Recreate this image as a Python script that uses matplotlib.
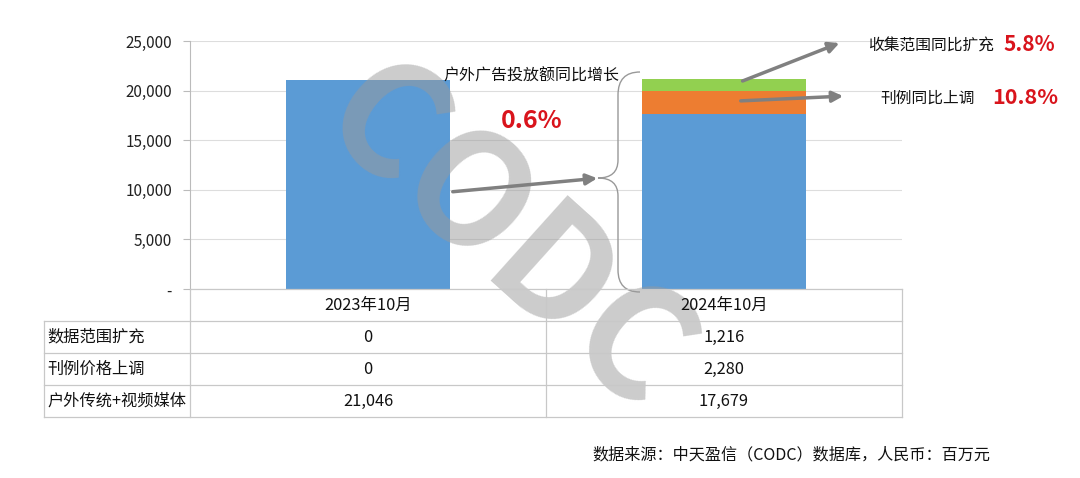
import matplotlib.pyplot as plt
from matplotlib.path import Path
from matplotlib.patches import PathPatch

plt.rcParams['font.family'] = ['Noto Sans CJK SC', 'DejaVu Sans']

# data
months = ['2023年10月', '2024年10月']
scope_expand = [0, 1216]      # 数据范围扩充
price_up = [0, 2280]          # 刊例价格上调
base_media = [21046, 17679]   # 户外传统+视频媒体
row_names = ['数据范围扩充', '刊例价格上调', '户外传统+视频媒体']
yticks = [0, 5000, 10000, 15000, 20000, 25000]
ytick_labels = ['-', '5,000', '10,000', '15,000', '20,000', '25,000']

W, H = 1080, 478
fig = plt.figure(figsize=(W / 100, H / 100), dpi=100)

# main chart axes in pixel layout
L, R, T, B = 190, 902, 41, 289
ax = fig.add_axes([L / W, 1 - B / H, (R - L) / W, (B - T) / H])

x = [0, 1]
ax.bar(x, base_media, width=0.46, color='#5B9BD5', zorder=2)
ax.bar(x, price_up, width=0.46, bottom=base_media, color='#ED7D31', zorder=2)
bot2 = [a + b for a, b in zip(base_media, price_up)]
ax.bar(x, scope_expand, width=0.46, bottom=bot2, color='#92D050', zorder=2)

ax.set_xlim(-0.5, 1.5)
ax.set_ylim(0, 25000)
ax.set_yticks(yticks)
ax.set_yticklabels(ytick_labels, fontsize=11, color='#222222')
ax.set_xticks([])
ax.grid(axis='y', color='#DDDDDD', linewidth=0.8, zorder=0)
for s in ['top', 'right', 'bottom']:
    ax.spines[s].set_visible(False)
ax.spines['left'].set_color('#BBBBBB')
ax.tick_params(axis='y', length=5, color='#BBBBBB', pad=8)

# overlay axes in pixel coordinates for table & annotations
ov = fig.add_axes([0, 0, 1, 1], zorder=5)
ov.set_xlim(0, W)
ov.set_ylim(H, 0)
ov.axis('off')
ov.patch.set_alpha(0)

lc = '#C8C8C8'
rows_y = [289, 321, 353, 385, 417]
TL = 44
col_x = [L, (L + R) / 2, R]
# header row
ov.plot([L, R], [rows_y[0], rows_y[0]], color=lc, lw=0.9)
for yy in rows_y[1:]:
    ov.plot([TL, R], [yy, yy], color=lc, lw=0.9)
for xx in col_x:
    ov.plot([xx, xx], [rows_y[0], rows_y[-1]], color=lc, lw=0.9)
ov.plot([TL, TL], [rows_y[1], rows_y[-1]], color=lc, lw=0.9)

centers = [(L + col_x[1]) / 2, (col_x[1] + R) / 2]
for c, m in zip(centers, months):
    ov.text(c, (rows_y[0] + rows_y[1]) / 2, m, ha='center', va='center', fontsize=11.8, color='#111111')
table_rows = [scope_expand, price_up, base_media]
for i, (name, vals) in enumerate(zip(row_names, table_rows)):
    yc = (rows_y[i + 1] + rows_y[i + 2]) / 2
    ov.text(TL + 3, yc, name, ha='left', va='center', fontsize=11.7, color='#111111')
    for c, v in zip(centers, vals):
        ov.text(c, yc, f'{v:,}', ha='center', va='center', fontsize=11.8, color='#111111')

# watermark
ov.text(505, 240, 'CODC', fontsize=112, fontweight='bold', color='#9A9A9A', alpha=0.5,
        rotation=-42, ha='center', va='center', zorder=1)

# curly brace
verts = [(640, 72), (618, 72), (618, 95), (618, 160), (618, 178), (598, 178),
         (618, 178), (618, 196), (618, 270), (618, 292), (640, 292)]
codes = [Path.MOVETO, Path.CURVE3, Path.CURVE3, Path.LINETO, Path.CURVE3, Path.CURVE3,
         Path.CURVE3, Path.CURVE3, Path.LINETO, Path.CURVE3, Path.CURVE3]
ov.add_patch(PathPatch(Path(verts, codes), fill=False, edgecolor='#999999', lw=1.0))

arrow = dict(arrowstyle='-|>', color='#808080', lw=2.5, mutation_scale=16)
ov.annotate('', xy=(600, 178), xytext=(450, 192), arrowprops=arrow)
ov.annotate('', xy=(842, 42), xytext=(740, 82), arrowprops=arrow)
ov.annotate('', xy=(846, 96), xytext=(738, 101), arrowprops=arrow)

ov.text(443, 76, '户外广告投放额同比增长', ha='left', va='center', fontsize=11.5, color='#111111')
ov.text(532, 121, '0.6%', ha='center', va='center', fontsize=18, fontweight='bold', color='#D9141C')
ov.text(868, 46, '收集范围同比扩充', ha='left', va='center', fontsize=11.3, color='#111111')
ov.text(1003, 44, '5.8%', ha='left', va='center', fontsize=15, fontweight='bold', color='#D9141C')
ov.text(880, 98, '刊例同比上调', ha='left', va='center', fontsize=11.3, color='#111111')
ov.text(992, 97, '10.8%', ha='left', va='center', fontsize=15.5, fontweight='bold', color='#D9141C')

ov.text(592, 455, '数据来源：中天盈信（CODC）数据库，人民币：百万元', ha='left', va='center',
        fontsize=11.6, color='#111111')

fig.savefig('out.png', dpi=100)
